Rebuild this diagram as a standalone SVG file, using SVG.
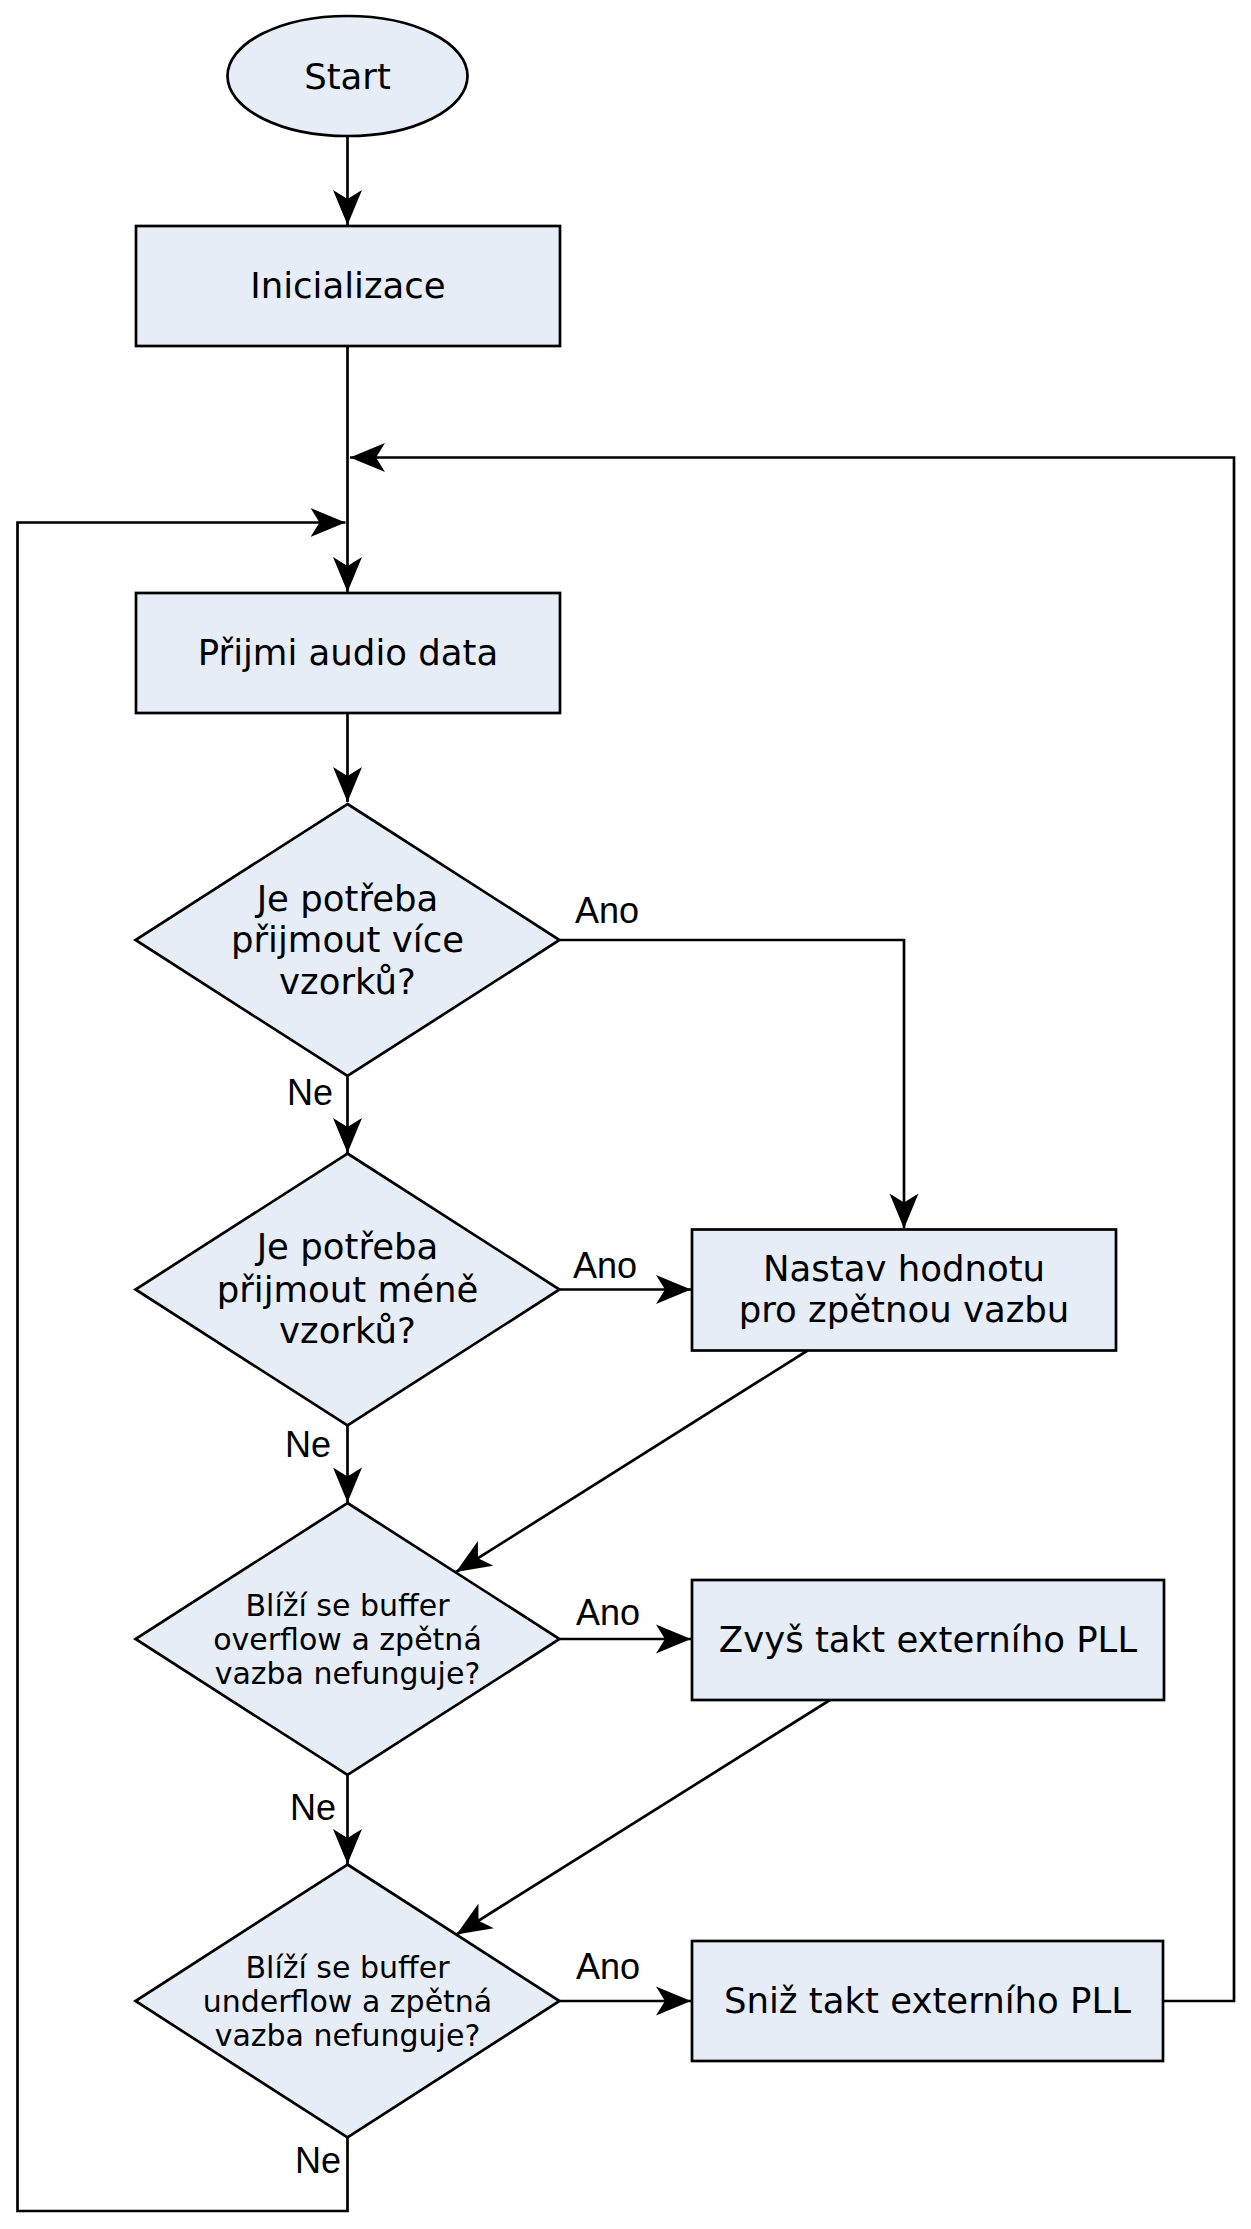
<svg xmlns="http://www.w3.org/2000/svg" width="1251" height="2229" viewBox="0 0 1251 2229">
<style>
.node{fill:#e6edf7;stroke:#000;stroke-width:2.7}
.t{font-family:"DejaVu Sans",sans-serif;font-size:35.5px;fill:#000;text-anchor:middle}
.ts{font-family:"DejaVu Sans",sans-serif;font-size:30px;fill:#000;text-anchor:middle}
.lbl{font-family:"Liberation Sans",Arial,sans-serif;font-size:36px;fill:#000}
.edge{fill:none;stroke:#000;stroke-width:2.7;marker-end:url(#arr)}
.edgeN{fill:none;stroke:#000;stroke-width:2.7}
</style>
<defs>
<marker id="arr" markerUnits="userSpaceOnUse" viewBox="0 -15 36 30" markerWidth="36" markerHeight="30" refX="35" refY="0" orient="auto">
<path d="M35,0 L0,-14.5 L9,0 L0,14.5 Z" fill="#000"/>
</marker>
</defs>
<rect width="1251" height="2229" fill="#fff"/>
<g id="connectors">
<path class="edge" d="M347.5,136 V225"/>
<path class="edge" d="M347.5,346 V592"/>
<path class="edge" d="M347.5,713 V802"/>
<path class="edge" d="M559.5,940 H904 V1228.5"/>
<path class="edge" d="M347.5,1076 V1153"/>
<path class="edge" d="M559.5,1289.5 H691"/>
<path class="edge" d="M807.6,1350.5 L456,1572"/>
<path class="edge" d="M347.5,1425.5 V1502.5"/>
<path class="edge" d="M559.5,1639 H691"/>
<path class="edge" d="M830,1700 L456.5,1934.5"/>
<path class="edge" d="M347.5,1775 V1864"/>
<path class="edge" d="M559.5,2001 H691"/>
<path class="edge" d="M1163,2001 H1234 V457.5 H350"/>
<path class="edge" d="M347.5,2137.5 V2211 H17.5 V522.5 H345.5"/>
<text class="lbl" x="575" y="923">Ano</text>
<text class="lbl" x="573" y="1278">Ano</text>
<text class="lbl" x="576" y="1625">Ano</text>
<text class="lbl" x="576" y="1979">Ano</text>
<text class="lbl" x="333" y="1105" text-anchor="end">Ne</text>
<text class="lbl" x="331" y="1457" text-anchor="end">Ne</text>
<text class="lbl" x="336" y="1820" text-anchor="end">Ne</text>
<text class="lbl" x="341" y="2173" text-anchor="end">Ne</text>
</g>
<g id="start">
<ellipse class="node" cx="347.5" cy="76" rx="120" ry="60"/>
<text class="t" x="347.5" y="89">Start</text>
</g>
<g id="inicializace">
<rect class="node" x="136" y="226" width="424" height="120"/>
<text class="t" x="348" y="298">Inicializace</text>
</g>
<g id="prijmi">
<rect class="node" x="136" y="593" width="424" height="120"/>
<text class="t" x="348" y="665">Přijmi audio data</text>
</g>
<g id="d1">
<polygon class="node" points="347.5,804 559.5,940 347.5,1076 135.5,940"/>
<text class="t" x="347.5" y="910.5">Je potřeba</text>
<text class="t" x="347.5" y="952">přijmout více</text>
<text class="t" x="347.5" y="994">vzorků?</text>
</g>
<g id="d2">
<polygon class="node" points="347.5,1153.5 559.5,1289.5 347.5,1425.5 135.5,1289.5"/>
<text class="t" x="347.5" y="1259">Je potřeba</text>
<text class="t" x="347.5" y="1302">přijmout méně</text>
<text class="t" x="347.5" y="1343">vzorků?</text>
</g>
<g id="nastav">
<rect class="node" x="692" y="1229.5" width="424" height="121"/>
<text class="t" x="904" y="1281">Nastav hodnotu</text>
<text class="t" x="904" y="1322">pro zpětnou vazbu</text>
</g>
<g id="d3">
<polygon class="node" points="347.5,1503 559.5,1639 347.5,1775 135.5,1639"/>
<text class="ts" x="347.5" y="1615.5">Blíží se buffer</text>
<text class="ts" x="347.5" y="1649.5">overflow a zpětná</text>
<text class="ts" x="347.5" y="1684">vazba nefunguje?</text>
</g>
<g id="zvys">
<rect class="node" x="692" y="1580" width="472" height="120"/>
<text class="t" x="928" y="1652">Zvyš takt externího PLL</text>
</g>
<g id="d4">
<polygon class="node" points="347.5,1864.5 559.5,2001 347.5,2137.5 135.5,2001"/>
<text class="ts" x="347.5" y="1978">Blíží se buffer</text>
<text class="ts" x="347.5" y="2012">underflow a zpětná</text>
<text class="ts" x="347.5" y="2046">vazba nefunguje?</text>
</g>
<g id="sniz">
<rect class="node" x="692" y="1941" width="471" height="120"/>
<text class="t" x="927.5" y="2013">Sniž takt externího PLL</text>
</g>
</svg>
